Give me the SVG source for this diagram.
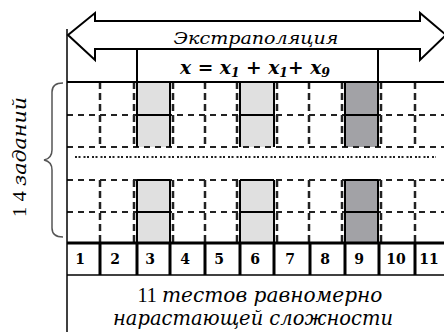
<svg xmlns="http://www.w3.org/2000/svg" width="444" height="332" viewBox="0 0 444 332">
<style>
.t{font-family:"Liberation Serif","DejaVu Serif",serif;fill:#000}
.it{font-family:"DejaVu Serif",serif;font-style:italic}
.num{font-family:"DejaVu Serif",serif;font-weight:bold;font-size:14px;text-anchor:middle}
.dh{stroke:#222;stroke-width:2;stroke-dasharray:6,5;fill:none}
.dv{stroke:#222;stroke-width:2.5;stroke-dasharray:7,4;fill:none}
.s{stroke:#000;stroke-width:2;fill:none}
.lg{fill:#e0e0e0}
.dg{fill:#a2a2a6}
</style>
<rect width="444" height="332" fill="#fff"/>
<g id="arrow">
<path d="M68,35 L95,13 L95,21 L420,21 L420,13 L446,35 L420,60 L420,49 L95,49 L95,60 Z" fill="#fff" stroke="#000" stroke-width="2" stroke-linejoin="miter"/>
<text class="t it" x="256" y="44" font-size="17" text-anchor="middle" textLength="165" lengthAdjust="spacingAndGlyphs">Экстраполяция</text>
</g>
<g id="formula">
<line class="s" x1="137" y1="49" x2="137" y2="82"/>
<line class="s" x1="378" y1="49" x2="378" y2="82"/>
<text class="t it" x="255" y="74" font-size="18" font-weight="bold" text-anchor="middle" textLength="150" lengthAdjust="spacingAndGlyphs">x = x<tspan font-size="12" dy="3">1</tspan><tspan dy="-3"> + x</tspan><tspan font-size="12" dy="3">1</tspan><tspan dy="-3">+ x</tspan><tspan font-size="12" dy="3">9</tspan></text>
</g>
<g id="grid">
<rect class="lg" x="137" y="82" width="33" height="65"/>
<rect class="lg" x="137" y="180" width="33" height="63"/>
<rect class="lg" x="240" y="82" width="34" height="65"/>
<rect class="lg" x="240" y="180" width="34" height="63"/>
<rect class="dg" x="345" y="82" width="33" height="65"/>
<rect class="dg" x="345" y="180" width="33" height="63"/>
<g class="dh">
<line x1="67" y1="115" x2="444" y2="115"/>
<line x1="67" y1="147" x2="444" y2="147"/>
<line x1="67" y1="180" x2="444" y2="180"/>
<line x1="67" y1="212" x2="444" y2="212"/>
</g>
<line x1="75" y1="157" x2="436" y2="157" stroke="#222" stroke-width="2" stroke-dasharray="2,1.5,2,3"/>
<g class="dv">
<path d="M100,82V147M100,180V243"/>
<path d="M134,82V147M134,180V243"/>
<path d="M173,82V147M173,180V243"/>
<path d="M205,82V147M205,180V243"/>
<path d="M237,82V147M237,180V243"/>
<path d="M277,82V147M277,180V243"/>
<path d="M309,82V147M309,180V243"/>
<path d="M342,82V147M342,180V243"/>
<path d="M381,82V147M381,180V243"/>
<path d="M415,82V147M415,180V243"/>
</g>
<g class="s">
<path d="M137,82V147M170,82V147M137,115H170M137,180V243M170,180V243M137,212H170M137,180H170"/>
<path d="M240,82V147M274,82V147M240,115H274M240,180V243M274,180V243M240,212H274M240,180H274"/>
<path d="M345,82V147M378,82V147M345,115H378M345,180V243M378,180V243M345,212H378M345,180H378"/>
</g>
<line class="s" x1="67" y1="82" x2="444" y2="82"/>
<line x1="67" y1="29" x2="67" y2="332" stroke="#000" stroke-width="1.5"/>
</g>
<g id="numbers">
<line x1="67" y1="243" x2="444" y2="243" stroke="#000" stroke-width="3"/>
<line x1="67" y1="275" x2="444" y2="275" stroke="#000" stroke-width="1.5"/>
<path d="M100,243V275M137,243V275M170,243V275M205,243V275M240,243V275M274,243V275M310,243V275M345,243V275M379,243V275M415,243V275" stroke="#000" stroke-width="3"/>
<text class="num" x="80" y="264">1</text>
<text class="num" x="115" y="264">2</text>
<text class="num" x="150" y="264">3</text>
<text class="num" x="185" y="264">4</text>
<text class="num" x="219" y="264">5</text>
<text class="num" x="255" y="264">6</text>
<text class="num" x="290" y="264">7</text>
<text class="num" x="325" y="264">8</text>
<text class="num" x="359" y="264">9</text>
<text class="num" x="396" y="264">10</text>
<text class="num" x="429" y="264">11</text>
</g>
<g id="brace">
<path d="M63,83 C55,83 52,86 52,92 L52,150 C52,156 49,159 44,160 C49,161 52,164 52,170 L52,228 C52,234 55,237 63,237" fill="none" stroke="#555" stroke-width="1.5"/>
<text class="t" transform="translate(26,157) rotate(-90)" font-size="18" text-anchor="middle" textLength="120" lengthAdjust="spacingAndGlyphs">1 4 <tspan class="it">заданий</tspan></text>
</g>
<g id="caption">
<text class="t" x="260" y="302" font-size="20" text-anchor="middle" textLength="245" lengthAdjust="spacingAndGlyphs">11 <tspan class="it">тестов равномерно</tspan></text>
<text class="t it" x="253" y="325" font-size="20" text-anchor="middle" textLength="280" lengthAdjust="spacingAndGlyphs">нарастающей сложности</text>
</g>
</svg>
